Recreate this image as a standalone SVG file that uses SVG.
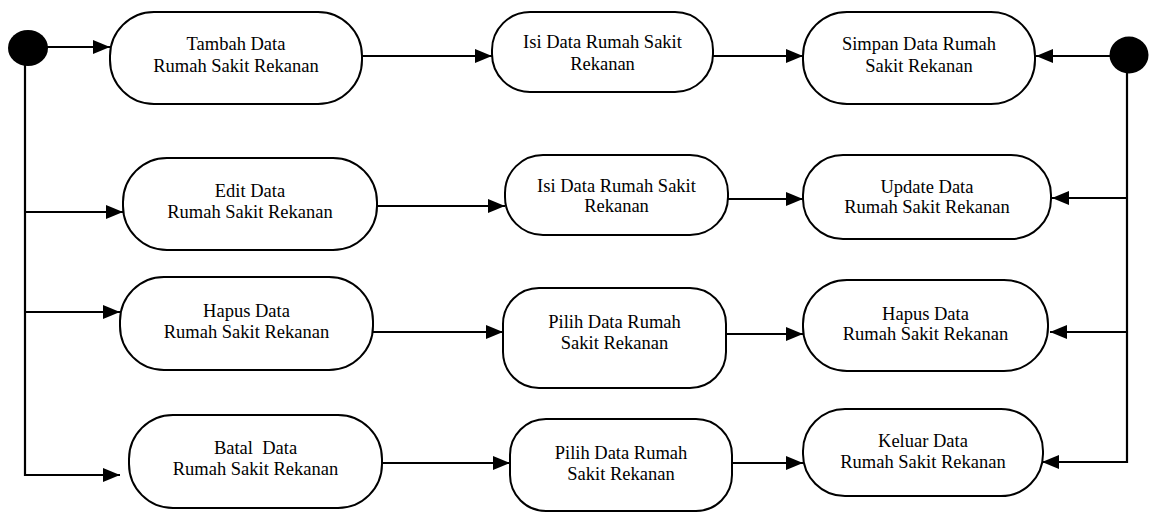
<svg xmlns="http://www.w3.org/2000/svg" width="1149" height="513" viewBox="0 0 1149 513">
<style>
.n rect{fill:#fff;stroke:#000;stroke-width:2}
.n text{font-family:"Liberation Serif","Times New Roman",serif;font-size:18.5px;fill:#000;text-anchor:middle;white-space:pre}
.c line,.c polyline{stroke:#000;stroke-width:2.2;fill:none}
.dot{fill:#000}
</style>
<defs>
<marker id="a" markerUnits="userSpaceOnUse" markerWidth="18" markerHeight="15" refX="17" refY="7" orient="auto">
<path d="M0,0 L17,7 L0,14 z" fill="#000"/>
</marker>
</defs>
<g class="c" id="connectors">
<line x1="46" y1="47" x2="110" y2="47" marker-end="url(#a)"/>
<polyline points="25,64 25,475 120,475" marker-end="url(#a)"/>
<line x1="25" y1="212" x2="123" y2="212" marker-end="url(#a)"/>
<line x1="25" y1="312" x2="120" y2="312" marker-end="url(#a)"/>
<line x1="362" y1="56" x2="492" y2="56" marker-end="url(#a)"/>
<line x1="713" y1="56" x2="803" y2="56" marker-end="url(#a)"/>
<line x1="377" y1="206" x2="505" y2="206" marker-end="url(#a)"/>
<line x1="728" y1="199" x2="803" y2="199" marker-end="url(#a)"/>
<line x1="373" y1="332" x2="503" y2="332" marker-end="url(#a)"/>
<line x1="726" y1="334" x2="803" y2="334" marker-end="url(#a)"/>
<line x1="382" y1="463" x2="510" y2="463" marker-end="url(#a)"/>
<line x1="732" y1="463" x2="803" y2="463" marker-end="url(#a)"/>
<line x1="1110" y1="56" x2="1036" y2="56" marker-end="url(#a)"/>
<polyline points="1127,72 1127,462 1042,462" marker-end="url(#a)"/>
<line x1="1127" y1="198" x2="1052" y2="198" marker-end="url(#a)"/>
<line x1="1127" y1="332" x2="1050" y2="332" marker-end="url(#a)"/>
</g>
<g id="start"><ellipse class="dot" cx="28" cy="48" rx="20" ry="18"/></g>
<g id="end"><ellipse class="dot" cx="1129" cy="55" rx="19.5" ry="18.5"/></g>
<g class="n" id="tambah"><rect x="110" y="12" width="252" height="92" rx="44" ry="44"/><text x="236" y="50">Tambah Data</text><text x="236" y="72">Rumah Sakit Rekanan</text></g>
<g class="n" id="isi1"><rect x="492" y="12" width="221" height="80" rx="38" ry="38"/><text x="602.5" y="48">Isi Data Rumah Sakit</text><text x="602.5" y="70">Rekanan</text></g>
<g class="n" id="simpan"><rect x="803" y="12" width="232" height="92" rx="44" ry="44"/><text x="919" y="50">Simpan Data Rumah</text><text x="919" y="72">Sakit Rekanan</text></g>
<g class="n" id="edit"><rect x="123" y="158" width="254" height="92" rx="44" ry="44"/><text x="250" y="197">Edit Data</text><text x="250" y="218">Rumah Sakit Rekanan</text></g>
<g class="n" id="isi2"><rect x="505" y="155" width="223" height="80" rx="38" ry="38"/><text x="616.5" y="192">Isi Data Rumah Sakit</text><text x="616.5" y="212">Rekanan</text></g>
<g class="n" id="update"><rect x="803" y="155" width="248" height="84" rx="40" ry="40"/><text x="927" y="193">Update Data</text><text x="927" y="213">Rumah Sakit Rekanan</text></g>
<g class="n" id="hapus1"><rect x="120" y="277" width="253" height="93" rx="44" ry="44"/><text x="246.5" y="317">Hapus Data</text><text x="246.5" y="338">Rumah Sakit Rekanan</text></g>
<g class="n" id="pilih1"><rect x="503" y="288" width="223" height="100" rx="36" ry="36"/><text x="614.5" y="328">Pilih Data Rumah</text><text x="614.5" y="349">Sakit Rekanan</text></g>
<g class="n" id="hapus2"><rect x="803" y="280" width="245" height="91" rx="44" ry="44"/><text x="925.5" y="320">Hapus Data</text><text x="925.5" y="340">Rumah Sakit Rekanan</text></g>
<g class="n" id="batal"><rect x="129" y="415" width="253" height="93" rx="44" ry="44"/><text x="255.5" y="454">Batal  Data</text><text x="255.5" y="475">Rumah Sakit Rekanan</text></g>
<g class="n" id="pilih2"><rect x="510" y="419" width="222" height="92" rx="36" ry="36"/><text x="621" y="459">Pilih Data Rumah</text><text x="621" y="480">Sakit Rekanan</text></g>
<g class="n" id="keluar"><rect x="803" y="409" width="240" height="87" rx="42" ry="42"/><text x="923" y="447">Keluar Data</text><text x="923" y="468">Rumah Sakit Rekanan</text></g>
</svg>
